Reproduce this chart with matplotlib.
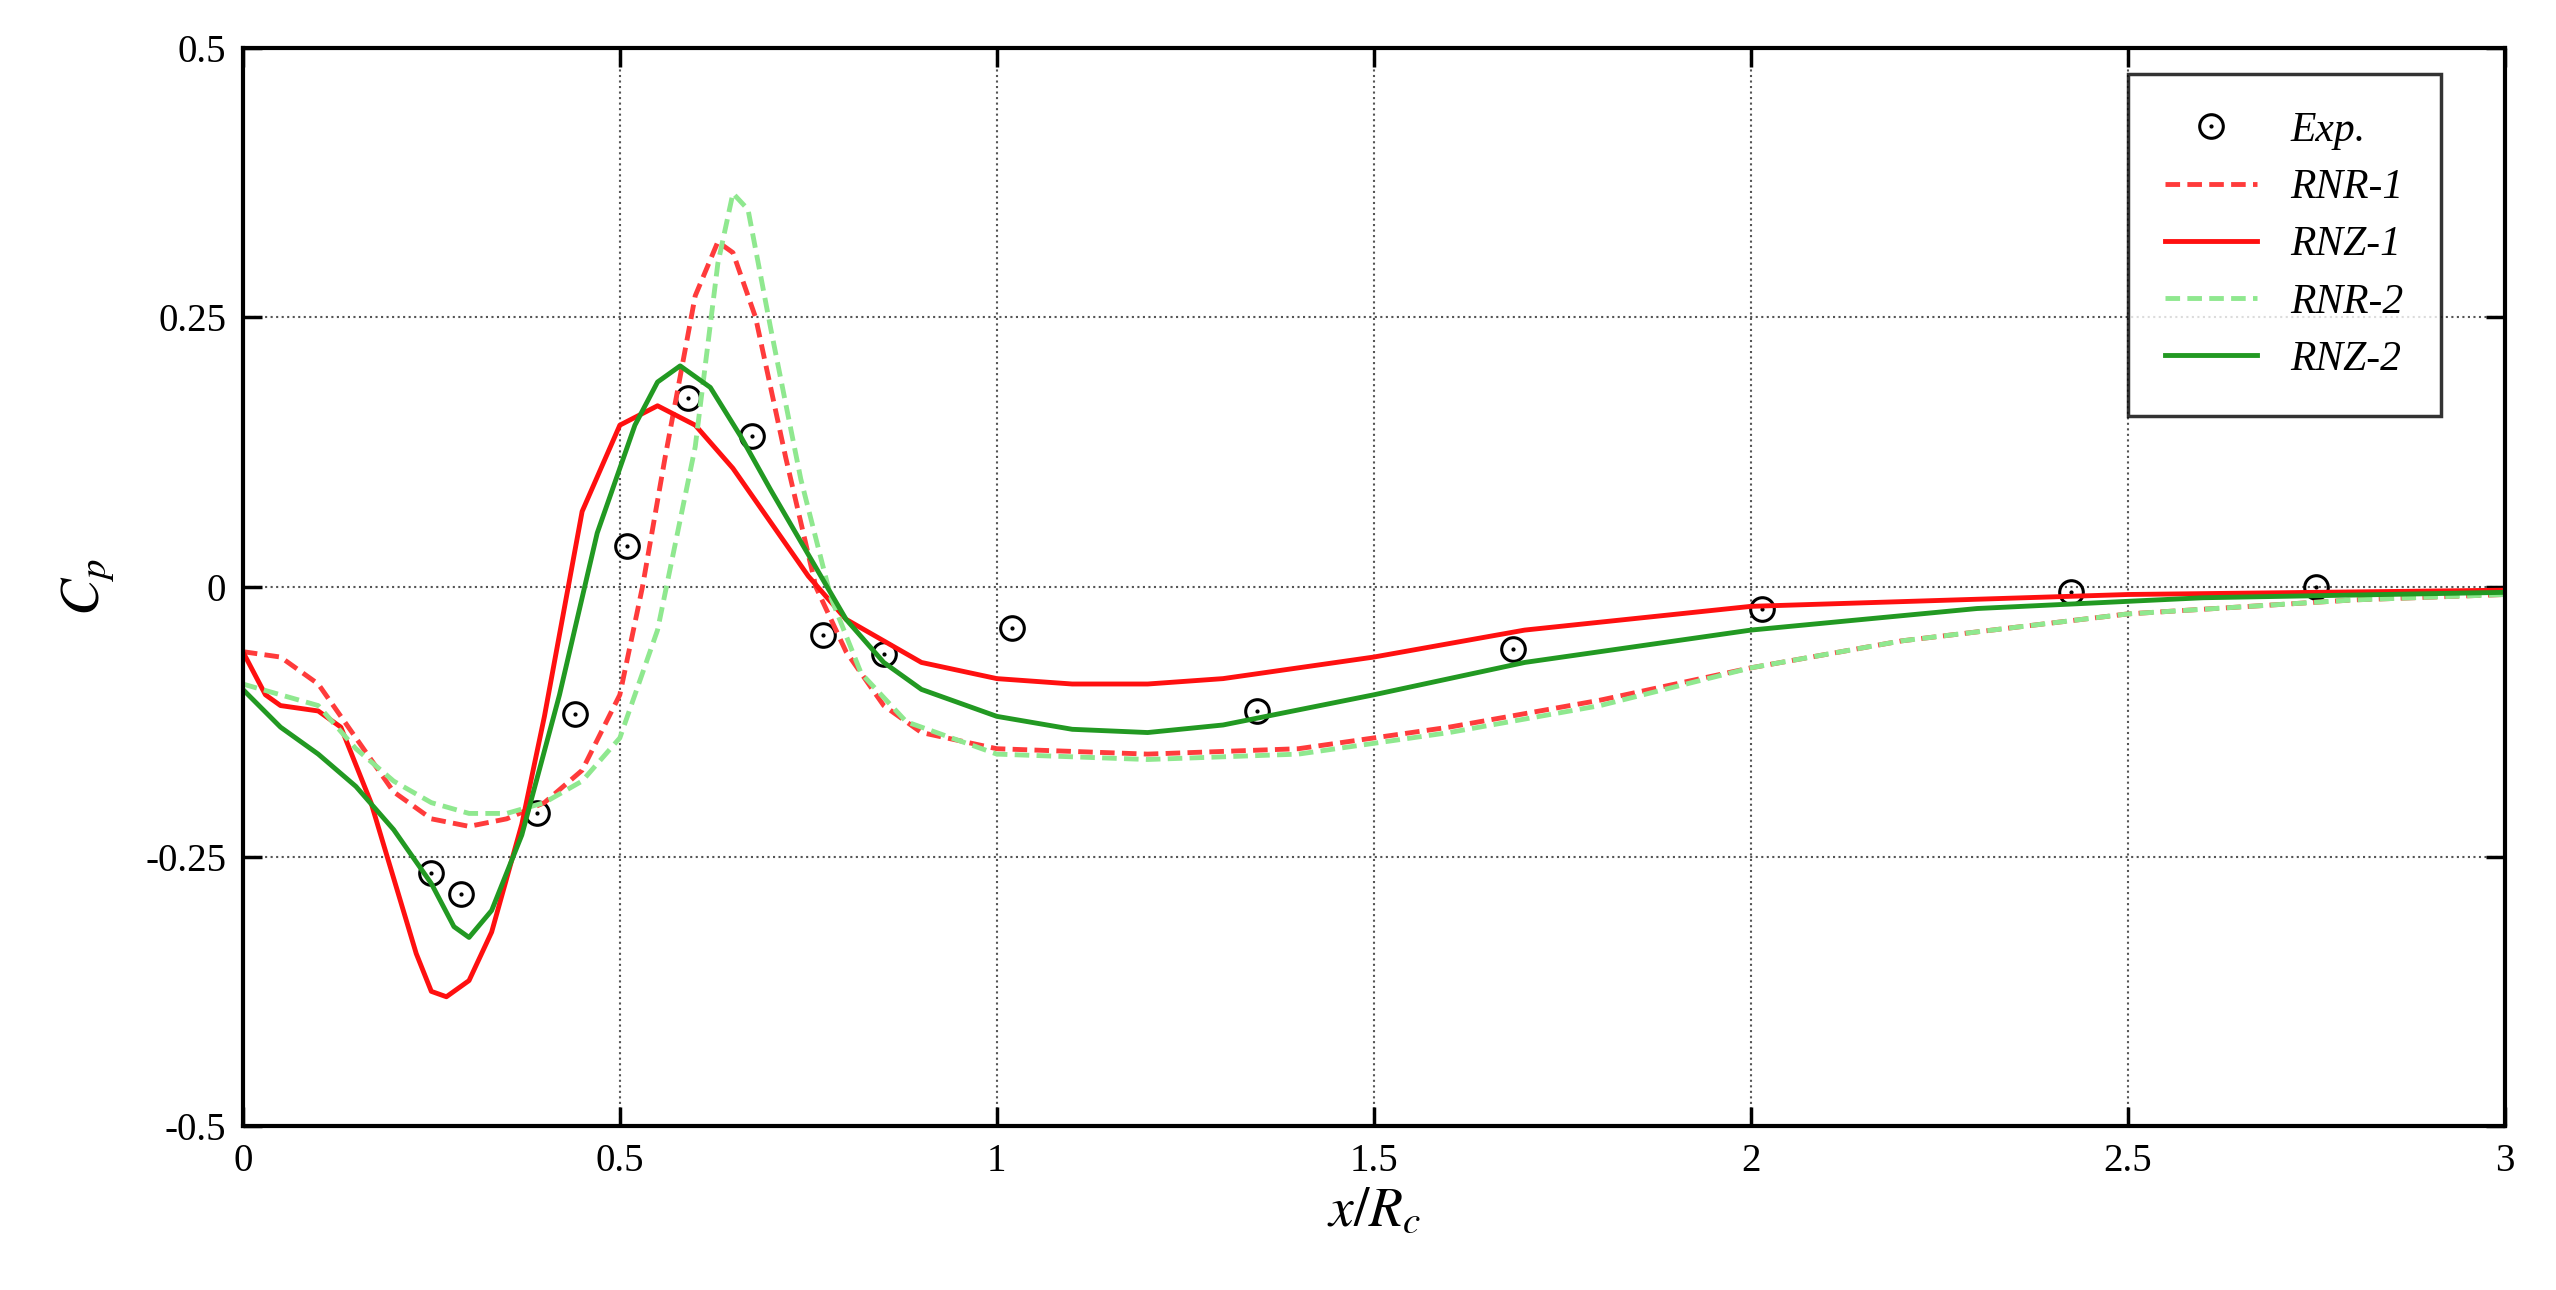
import matplotlib
matplotlib.use("Agg")
import matplotlib.pyplot as plt
from matplotlib.lines import Line2D

plt.rcParams['font.family'] = ['Liberation Serif', 'DejaVu Serif']
plt.rcParams['mathtext.fontset'] = 'stix'

exp_x = [0.25,0.29,0.39,0.44,0.51,0.59,0.675,0.77,0.85,1.02,1.345,1.685,2.015,2.425,2.75]
exp_y = [-0.265,-0.285,-0.21,-0.118,0.038,0.175,0.14,-0.045,-0.062,-0.038,-0.115,-0.058,-0.02,-0.005,0.0]

rnr1_x = [0,0.05,0.1,0.15,0.2,0.25,0.3,0.35,0.4,0.45,0.5,0.53,0.56,0.6,0.63,0.65,0.68,0.72,0.76,0.8,0.85,0.9,1.0,1.2,1.4,1.6,1.8,2.0,2.2,2.5,2.8,3.0]
rnr1_y = [-0.06,-0.065,-0.09,-0.14,-0.19,-0.215,-0.222,-0.215,-0.2,-0.17,-0.1,0.0,0.12,0.27,0.32,0.31,0.25,0.12,0.0,-0.06,-0.11,-0.135,-0.15,-0.155,-0.15,-0.13,-0.105,-0.075,-0.05,-0.025,-0.012,-0.007]

rnr2_x = [0,0.05,0.1,0.15,0.2,0.25,0.3,0.35,0.4,0.45,0.5,0.55,0.6,0.63,0.65,0.67,0.7,0.74,0.78,0.82,0.88,1.0,1.2,1.4,1.6,1.8,2.0,2.2,2.5,2.8,3.0]
rnr2_y = [-0.09,-0.1,-0.11,-0.15,-0.18,-0.2,-0.21,-0.21,-0.2,-0.18,-0.14,-0.04,0.13,0.3,0.365,0.35,0.24,0.1,-0.01,-0.08,-0.125,-0.155,-0.16,-0.155,-0.135,-0.11,-0.075,-0.05,-0.025,-0.012,-0.007]

rnz1_x = [0,0.03,0.05,0.1,0.13,0.17,0.2,0.23,0.25,0.27,0.3,0.33,0.37,0.4,0.45,0.5,0.55,0.6,0.65,0.7,0.75,0.8,0.9,1.0,1.1,1.2,1.3,1.5,1.7,2.0,2.5,3.0]
rnz1_y = [-0.06,-0.1,-0.11,-0.115,-0.13,-0.2,-0.27,-0.34,-0.375,-0.38,-0.365,-0.32,-0.22,-0.12,0.07,0.15,0.168,0.15,0.11,0.06,0.01,-0.03,-0.07,-0.085,-0.09,-0.09,-0.085,-0.065,-0.04,-0.018,-0.007,-0.003]

rnz2_x = [0,0.05,0.1,0.15,0.2,0.25,0.28,0.3,0.33,0.37,0.42,0.47,0.52,0.55,0.58,0.62,0.66,0.7,0.75,0.8,0.85,0.9,1.0,1.1,1.2,1.3,1.5,1.7,2.0,2.3,2.6,3.0]
rnz2_y = [-0.095,-0.13,-0.155,-0.185,-0.225,-0.275,-0.315,-0.325,-0.3,-0.23,-0.1,0.05,0.15,0.19,0.205,0.185,0.14,0.09,0.03,-0.03,-0.07,-0.095,-0.12,-0.132,-0.135,-0.128,-0.1,-0.07,-0.04,-0.02,-0.01,-0.005]

xticks = [0,0.5,1,1.5,2,2.5,3]
xlabels = ['0','0.5','1','1.5','2','2.5','3']
yticks = [-0.5,-0.25,0,0.25,0.5]
ylabels = ['-0.5','-0.25','0','0.25','0.5']

fig = plt.figure(figsize=(25.56,12.90), dpi=100)
ax = fig.add_axes([0.095,0.127,0.885,0.836])
ax.plot(exp_x, exp_y, 'o', mfc='none', mec='black', ms=17, mew=2.2)
ax.plot(exp_x, exp_y, '.', color='black', ms=4)
l1, = ax.plot(rnr1_x, rnr1_y, '--', color='#ff3b3b', lw=3.5, dashes=(3,1.5))
l2, = ax.plot(rnz1_x, rnz1_y, '-', color='#ff1010', lw=3.5)
l3, = ax.plot(rnr2_x, rnr2_y, '--', color='#8fe88f', lw=3.5, dashes=(3,1.5))
l4, = ax.plot(rnz2_x, rnz2_y, '-', color='#229922', lw=3.5)

ax.set_xlim(0,3); ax.set_ylim(-0.5,0.5)
ax.set_xticks(xticks); ax.set_xticklabels(xlabels)
ax.set_yticks(yticks); ax.set_yticklabels(ylabels)
ax.tick_params(direction='in', length=14, width=2.5, labelsize=28, top=True, right=True, pad=12)
for s in ax.spines.values(): s.set_linewidth(3)
ax.grid(True, linestyle=':', color='#555555', lw=1.5)
ax.set_xlabel(r'$x/R_c$', fontsize=40)
ax.set_ylabel(r'$C_p$', fontsize=40, labelpad=20)
hexp = (Line2D([], [], ls='none', marker='o', mfc='none', mec='black', ms=17, mew=2.2),
        Line2D([], [], ls='none', marker='.', color='black', ms=4))
leg = ax.legend([hexp, l1, l2, l3, l4], ['Exp.', 'RNR-1', 'RNZ-1', 'RNR-2', 'RNZ-2'],
                loc='upper right', bbox_to_anchor=(0.981,0.995),
                prop={'style':'italic','size':30}, frameon=True, fancybox=False,
                edgecolor='black', handlelength=2.2, borderpad=0.9, labelspacing=0.45)
leg.get_frame().set_linewidth(2.5)
fig.savefig('out.png', dpi=100)
